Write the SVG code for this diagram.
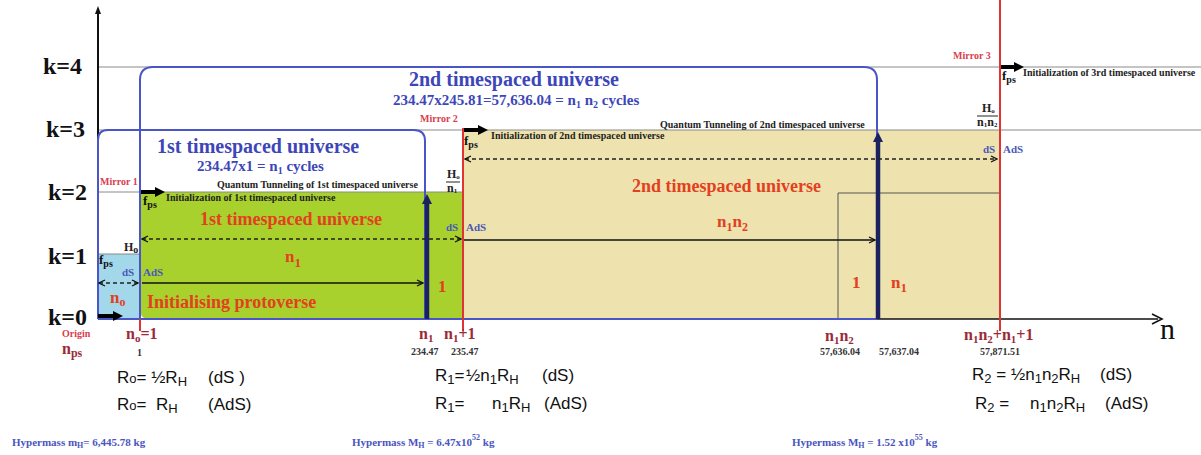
<svg xmlns="http://www.w3.org/2000/svg" width="1201" height="455" viewBox="0 0 1201 455">
<style>
.k{font:bold 24px "Liberation Serif",serif;fill:#111}
.sm{font:bold 10px "Liberation Serif",serif;fill:#222}
.mir{font:bold 10px "Liberation Serif",serif;fill:#d8404e}
.red{font:bold 18px "Liberation Serif",serif;fill:#e2401e}
.redn{font:bold 17px "Liberation Serif",serif;fill:#e2401e}
.blt{font:bold 20px "Liberation Serif",serif;fill:#3d46b8}
.bls{font:bold 15px "Liberation Serif",serif;fill:#3d46b8}
.ds{font:bold 11px "Liberation Serif",serif;fill:#4a58b8}
.fps{font:bold 13px "Liberation Serif",serif;fill:#111}
.h{font:bold 12px "Liberation Serif",serif;fill:#222}
.nl{font:bold 16px "Liberation Serif",serif;fill:#9a2a38}
.num{font:bold 10px "Liberation Serif",serif;fill:#333}
.eq{font:17px "Liberation Sans",sans-serif;fill:#111}
.hm{font:bold 11px "Liberation Serif",serif;fill:#4a55c0}
.gl{stroke:#8a8a8a;stroke-width:1;fill:none}
.bl{stroke:#4a55c8;stroke-width:2;fill:none}
.rl{stroke:#e03434;stroke-width:2;fill:none}
.fat{stroke:#000;stroke-width:4;fill:none}
.nv{stroke:#1c2260;stroke-width:4.5;fill:none}
.sa{stroke:#111;stroke-width:1.5;fill:none}
.da{stroke:#222;stroke-width:1.3;stroke-dasharray:4 3;fill:none}
</style>
<defs>
<marker id="mf" markerWidth="10" markerHeight="10" refX="1" refY="5" orient="auto" markerUnits="userSpaceOnUse"><path d="M0,0 L10,5 L0,10 z" fill="#000"/></marker>
<marker id="mn" markerWidth="10" markerHeight="10" refX="1" refY="5" orient="auto" markerUnits="userSpaceOnUse"><path d="M0,0 L10,5 L0,10 z" fill="#1c2260"/></marker>
<marker id="ms" markerWidth="8" markerHeight="8" refX="7" refY="4" orient="auto-start-reverse" markerUnits="userSpaceOnUse"><path d="M1,1 L7,4 L1,7" fill="none" stroke="#111" stroke-width="1.3"/></marker>
</defs>

<g id="fills">
<rect id="protoverse" x="98" y="254" width="42" height="65" fill="#a3d7ea"/>
<path id="green" d="M140,192 H463 V319 H149 Q140,319 140,310 Z" fill="#a8d12e"/>
<rect id="beige" x="463" y="130" width="537" height="189" fill="#eee3ae"/>
</g>

<g id="gridlines">
<path class="gl" d="M98,67 H1201 M98,130 H1201 M98,192 H463 M98,254 H140"/>
<path d="M838,319 V193 H1000" stroke="#555" stroke-width="1" fill="none"/>
</g>

<g id="axes">
<path d="M98,319 V10" stroke="#111" stroke-width="2" fill="none"/>
<path d="M95,14 L98,6 L101,14 z" fill="#111"/>
<path d="M877,319 H1158" stroke="#111" stroke-width="1.6" fill="none"/>
<path d="M1152,314 L1162,319 L1152,324" stroke="#111" stroke-width="1.6" fill="none"/>
<text x="1160" y="339" style="font:30px 'Liberation Serif',serif;fill:#111">n</text>
</g>

<g id="universe-boxes">
<path id="box2" class="bl" d="M140,319 V80 Q140,67 153,67 H864 Q877,67 877,80 V319"/>
<path id="box1" class="bl" d="M98,319 V140 Q98,130 108,130 H414 Q425,130 425,141 V319"/>
<path class="bl" d="M98,319 H877"/>
</g>

<g id="mirrors">
<path class="rl" d="M463,128 V331 M1000,0 V331 M140,319 V331"/>
<text class="mir" x="100" y="185">Mirror 1</text>
<text class="mir" x="420" y="122">Mirror 2</text>
<text class="mir" x="953" y="59">Mirror 3</text>
</g>

<g id="connectors">
<path class="fat" d="M98,316 H114" marker-end="url(#mf)"/>
<path class="fat" d="M141,192 H156" marker-end="url(#mf)"/>
<path class="fat" d="M464,130 H479" marker-end="url(#mf)"/>
<path class="fat" d="M1001,67 H1015" marker-end="url(#mf)"/>
<path class="nv" d="M427,319 V203" marker-end="url(#mn)"/>
<path class="nv" d="M878,319 V141" marker-end="url(#mn)"/>
<path class="da" d="M99,283 H138" marker-start="url(#ms)" marker-end="url(#ms)"/>
<path class="da" d="M142,239 H461" marker-start="url(#ms)" marker-end="url(#ms)"/>
<path class="da" d="M465,159 H997" marker-start="url(#ms)" marker-end="url(#ms)"/>
<path class="sa" d="M142,283 H423" marker-end="url(#ms)"/>
<path class="sa" d="M464,240 H875" marker-end="url(#ms)"/>
</g>

<g id="k-labels">
<text class="k" x="43" y="74">k=4</text>
<text class="k" x="46" y="137">k=3</text>
<text class="k" x="48" y="200">k=2</text>
<text class="k" x="48" y="264">k=1</text>
<text class="k" x="48" y="325">k=0</text>
</g>

<g id="node-protoverse">
<text class="fps" x="99" y="264">f<tspan font-size="10" dy="3">ps</tspan></text>
<text class="h" x="124" y="251" font-size="13">H<tspan font-size="10" dy="2">o</tspan></text>
<text class="ds" x="122" y="276">dS</text>
<text class="ds" x="143" y="276" fill="#5f7590">AdS</text>
<text class="redn" x="110" y="303">n<tspan font-size="12" dy="3">o</tspan></text>
<text class="red" x="147" y="308">Initialising protoverse</text>
</g>

<g id="node-universe1">
<text class="blt" x="157" y="153">1st timespaced universe</text>
<text class="bls" x="197" y="171">234.47x1 = n<tspan font-size="10" dy="3">1</tspan><tspan dy="-3"> cycles</tspan></text>
<text class="sm" x="217" y="188">Quantum Tunneling of 1st timespaced universe</text>
<text class="fps" x="143" y="205">f<tspan font-size="10" dy="3">ps</tspan></text>
<text class="sm" x="166" y="201">Initialization of  1st timespaced universe</text>
<text class="red" x="200" y="225">1st timespaced universe</text>
<text class="redn" x="285" y="262">n<tspan font-size="13" dy="5">1</tspan></text>
<text class="redn" x="438" y="292">1</text>
<text class="h" x="447" y="178" font-size="10">H<tspan font-size="7" dy="1">o</tspan></text>
<path d="M446,182 H460" stroke="#222" stroke-width="1"/>
<text class="h" x="447" y="192" font-size="9">n<tspan font-size="7" dy="1">1</tspan></text>
<text class="ds" x="446" y="231" fill="#5f7590">dS</text>
<text class="ds" x="466" y="231">AdS</text>
</g>

<g id="node-universe2">
<text class="blt" x="409" y="86">2nd timespaced universe</text>
<text class="bls" x="393" y="105">234.47x245.81=57,636.04 = n<tspan font-size="10" dy="3">1</tspan><tspan dy="-3"> n</tspan><tspan font-size="10" dy="3">2</tspan><tspan dy="-3"> cycles</tspan></text>
<text class="sm" x="660" y="128">Quantum Tunneling of 2nd timespaced universe</text>
<text class="fps" x="464" y="145">f<tspan font-size="10" dy="3">ps</tspan></text>
<text class="sm" x="491" y="139">Initialization of  2nd timespaced universe</text>
<text class="red" x="632" y="192">2nd timespaced universe</text>
<text class="redn" x="717" y="227">n<tspan font-size="12" dy="4">1</tspan><tspan dy="-4">n</tspan><tspan font-size="12" dy="4">2</tspan></text>
<text class="redn" x="852" y="288">1</text>
<text class="redn" x="891" y="288">n<tspan font-size="13" dy="4">1</tspan></text>
<text class="h" x="982" y="112" font-size="10">H<tspan font-size="7" dy="1">o</tspan></text>
<path d="M977,116 H998" stroke="#222" stroke-width="1"/>
<text class="h" x="977" y="126" font-size="9">n<tspan font-size="7" dy="1">1</tspan><tspan dy="-1">n</tspan><tspan font-size="7" dy="1">2</tspan></text>
<text class="ds" x="983" y="153">dS</text>
<text class="ds" x="1003" y="153">AdS</text>
</g>

<g id="node-universe3">
<text class="fps" x="1002" y="80">f<tspan font-size="10" dy="3">ps</tspan></text>
<text class="sm" x="1023" y="76">Initialization of 3rd timespaced universe</text>
</g>

<g id="axis-labels">
<text class="mir" x="62" y="337">Origin</text>
<text class="nl" x="62" y="354">n<tspan font-size="12" dy="3">ps</tspan></text>
<text class="nl" x="126" y="339">n<tspan font-size="11" dy="3">o</tspan><tspan dy="-3">=1</tspan></text>
<text class="num" x="137" y="356" font-size="8">1</text>
<text class="nl" x="419" y="339">n<tspan font-size="11" dy="3">1</tspan></text>
<text class="nl" x="444" y="339">n<tspan font-size="11" dy="3">1</tspan><tspan dy="-3">+1</tspan></text>
<text class="num" x="411" y="355">234.47</text>
<text class="num" x="451" y="355">235.47</text>
<text class="nl" x="825" y="341">n<tspan font-size="11" dy="3">1</tspan><tspan dy="-3">n</tspan><tspan font-size="11" dy="3">2</tspan></text>
<text class="num" x="820" y="355">57,636.04</text>
<text class="num" x="879" y="355">57,637.04</text>
<text class="nl" x="964" y="340">n<tspan font-size="11" dy="3">1</tspan><tspan dy="-3">n</tspan><tspan font-size="11" dy="3">2</tspan><tspan dy="-3">+n</tspan><tspan font-size="11" dy="3">1</tspan><tspan dy="-3">+1</tspan></text>
<text class="num" x="980" y="355">57,871.51</text>
</g>

<g id="radius-formulas">
<text class="eq" x="117" y="383">R<tspan font-size="13">o</tspan>= ½R<tspan font-size="13" dy="3">H</tspan></text>
<text class="eq" x="208" y="383">(dS )</text>
<text class="eq" x="117" y="410">R<tspan font-size="13">o</tspan>=</text>
<text class="eq" x="156" y="410">R<tspan font-size="13" dy="3">H</tspan></text>
<text class="eq" x="208" y="410">(AdS)</text>

<text class="eq" x="435" y="381">R<tspan font-size="13" dy="3">1</tspan><tspan dy="-3">=</tspan></text>
<text class="eq" x="466" y="381">½n<tspan font-size="13" dy="3">1</tspan><tspan dy="-3">R</tspan><tspan font-size="13" dy="3">H</tspan></text>
<text class="eq" x="542" y="381">(dS)</text>
<text class="eq" x="435" y="409">R<tspan font-size="13" dy="3">1</tspan><tspan dy="-3">=</tspan></text>
<text class="eq" x="492" y="409">n<tspan font-size="13" dy="3">1</tspan><tspan dy="-3">R</tspan><tspan font-size="13" dy="3">H</tspan></text>
<text class="eq" x="544" y="409">(AdS)</text>

<text class="eq" x="972" y="380">R<tspan font-size="13" dy="3">2</tspan><tspan dy="-3"> =</tspan></text>
<text class="eq" x="1011" y="380">½n<tspan font-size="13" dy="3">1</tspan><tspan dy="-3">n</tspan><tspan font-size="13" dy="3">2</tspan><tspan dy="-3">R</tspan><tspan font-size="13" dy="3">H</tspan></text>
<text class="eq" x="1100" y="380">(dS)</text>
<text class="eq" x="975" y="409">R<tspan font-size="13" dy="3">2</tspan><tspan dy="-3"> =</tspan></text>
<text class="eq" x="1030" y="409">n<tspan font-size="13" dy="3">1</tspan><tspan dy="-3">n</tspan><tspan font-size="13" dy="3">2</tspan><tspan dy="-3">R</tspan><tspan font-size="13" dy="3">H</tspan></text>
<text class="eq" x="1105" y="409">(AdS)</text>
</g>

<g id="hypermass">
<text class="hm" x="12" y="446">Hypermass m<tspan font-size="8" dy="2">H</tspan><tspan dy="-2">= 6,445.78  kg</tspan></text>
<text class="hm" x="352" y="446">Hypermass M<tspan font-size="8" dy="2">H</tspan><tspan dy="-2"> = 6.47x10</tspan><tspan font-size="8" dy="-6">52</tspan><tspan dy="6">  kg</tspan></text>
<text class="hm" x="792" y="446">Hypermass M<tspan font-size="8" dy="2">H</tspan><tspan dy="-2"> = 1.52 x10</tspan><tspan font-size="8" dy="-6">55</tspan><tspan dy="6">  kg</tspan></text>
</g>
</svg>
